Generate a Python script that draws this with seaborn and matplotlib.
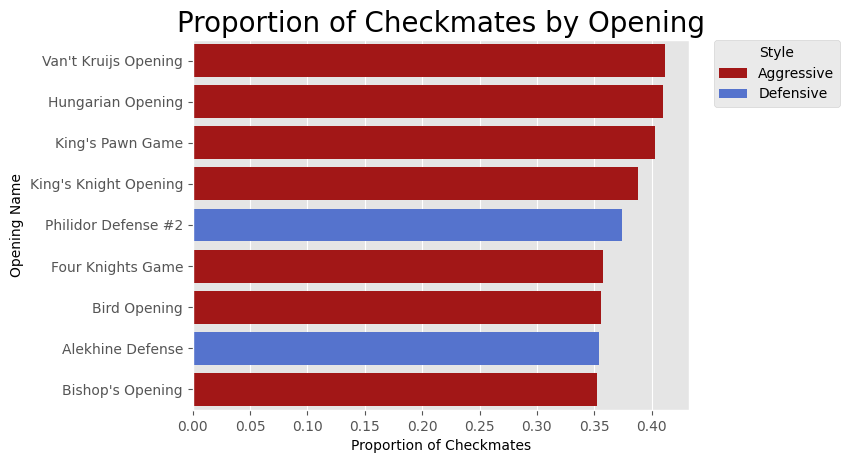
import matplotlib
matplotlib.use("Agg")
import matplotlib.pyplot as plt
import seaborn as sns
import pandas as pd

plt.style.use("ggplot")

openings = ["Van't Kruijs Opening", "Hungarian Opening", "King's Pawn Game",
            "King's Knight Opening", "Philidor Defense #2", "Four Knights Game",
            "Bird Opening", "Alekhine Defense", "Bishop's Opening"]
proportions = [0.412, 0.410, 0.403, 0.388, 0.374, 0.358, 0.356, 0.354, 0.352]
styles = ["Aggressive", "Aggressive", "Aggressive", "Aggressive", "Defensive",
          "Aggressive", "Aggressive", "Defensive", "Aggressive"]

df = pd.DataFrame({"Opening Name": openings,
                   "Proportion of Checkmates": proportions,
                   "Style": styles})

fig, ax = plt.subplots(figsize=(8.49, 4.63), dpi=100)
sns.barplot(data=df, x="Proportion of Checkmates", y="Opening Name", hue="Style",
            palette={"Aggressive": "#b90000", "Defensive": "royalblue"},
            dodge=False, ax=ax)

ax.set_title("Proportion of Checkmates by Opening", fontsize=20)
ax.set_xlabel("Proportion of Checkmates", color="black", fontsize=10)
ax.set_ylabel("Opening Name", color="black", fontsize=10)
ax.grid(axis="y", visible=False)
ax.legend(title="Style", bbox_to_anchor=(1.05, 1.0), loc="upper left", borderaxespad=0,
          fontsize=10, title_fontsize=10)

plt.subplots_adjust(left=0.227, right=0.8115, top=0.9136, bottom=0.1145)
plt.savefig("out.png", dpi=100)
